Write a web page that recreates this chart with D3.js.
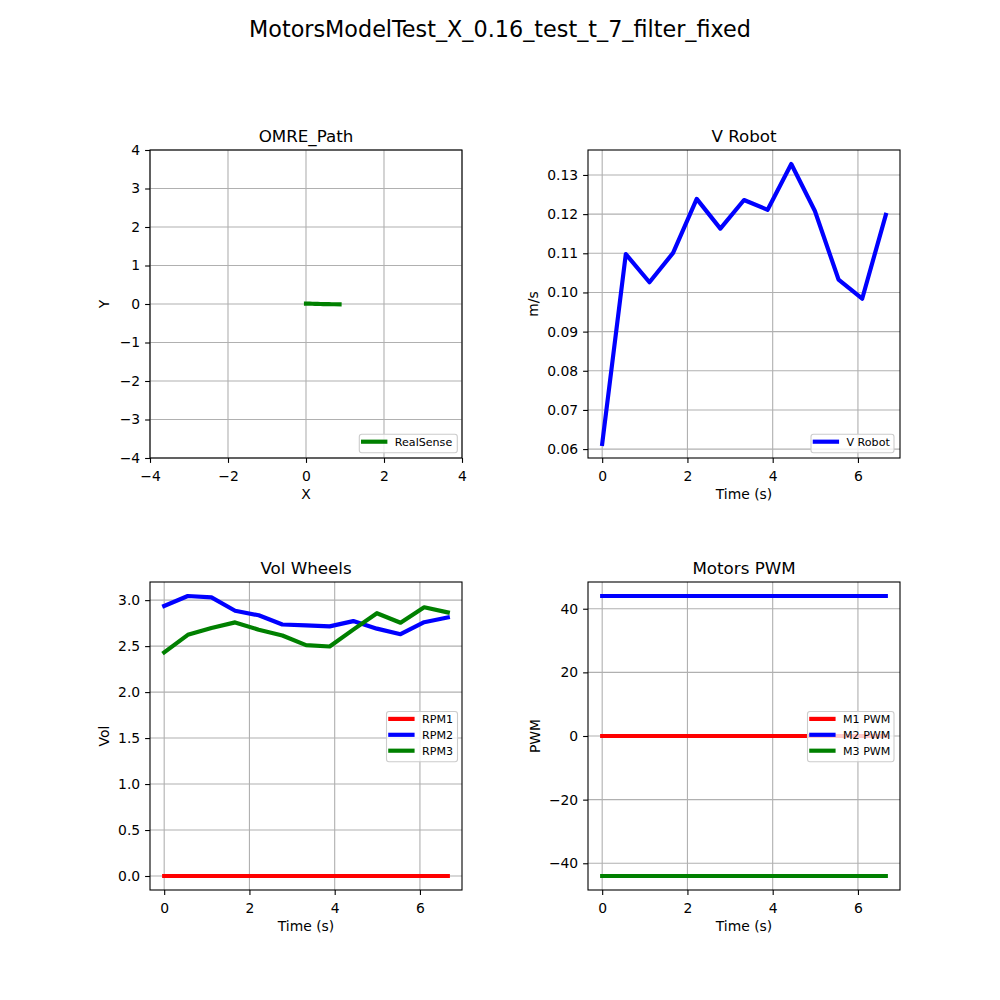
<!DOCTYPE html>
<html><head><meta charset="utf-8">
<script src="https://cdn.jsdelivr.net/npm/d3@7"></script>
<style>body{margin:0;background:#fff}svg{display:block}text{font-family:"DejaVu Sans",sans-serif}</style>
</head><body>
<svg id="c" width="1000" height="1000"></svg>
<script>
const figTitle = "MotorsModelTest_X_0.16_test_t_7_filter_fixed";
const time = [0,0.5545,1.109,1.6635,2.218,2.7725,3.327,3.8815,4.436,4.9905,5.545,6.0995,6.654];
const vRobot = [0.0613,0.1098,0.1026,0.1101,0.1239,0.1163,0.1236,0.1211,0.1328,0.1208,0.1033,0.0984,0.1198];
const rpm1 = [0,0,0,0,0,0,0,0,0,0,0,0,0];
const rpm2 = [2.937,3.045,3.030,2.885,2.835,2.735,2.725,2.715,2.772,2.690,2.630,2.760,2.812];
const rpm3 = [2.432,2.623,2.698,2.758,2.679,2.616,2.511,2.496,2.679,2.858,2.754,2.922,2.866];
const m1pwm = [0,0,0,0,0,0,0,0,0,0,0,0,0];
const m2pwm = [44,44,44,44,44,44,44,44,44,44,44,44,44];
const m3pwm = [-44,-44,-44,-44,-44,-44,-44,-44,-44,-44,-44,-44,-44];
const pathX = [0,0.04,0.10,0.16,0.23,0.30,0.37,0.44,0.52,0.59,0.66,0.72,0.86];
const pathY = [0.01,0.01,0.008,0.006,0.004,0.002,0,-0.002,-0.004,-0.005,-0.006,-0.007,-0.008];
const pathTicksX = [-4,-2,0,2,4];
const pathTicksY = [-4,-3,-2,-1,0,1,2,3,4];
const vTicks = [0.06,0.07,0.08,0.09,0.10,0.11,0.12,0.13];
const volTicks = [0,0.5,1,1.5,2,2.5,3];
const pwmTicks = [-40,-20,0,20,40];
const timeTicks = [0,2,4,6];

const svg = d3.select("#c");
svg.append("text").attr("x",500).attr("y",37).attr("text-anchor","middle")
  .style("font-size","22.3px").text(figTitle);

const LW = 4.17;
function ext(arrs){const all=[].concat(...arrs);const lo=d3.min(all),hi=d3.max(all);const m=(hi-lo)*0.05;return [lo-m,hi+m];}
function fmt(t){return d3.format(".2f")(t).replace("-","\u2212");}

function panel(o){
  const g = svg.append("g");
  const x = d3.scaleLinear().domain(o.xd).range([o.l,o.l+312]);
  const y = d3.scaleLinear().domain(o.yd).range([o.t+308,o.t]);
  o.xt.forEach(v=>g.append("line").attr("x1",x(v)).attr("x2",x(v)).attr("y1",o.t).attr("y2",o.t+308).attr("stroke","#b0b0b0").attr("stroke-width",1.1));
  o.yt.forEach(v=>g.append("line").attr("y1",y(v)).attr("y2",y(v)).attr("x1",o.l).attr("x2",o.l+312).attr("stroke","#b0b0b0").attr("stroke-width",1.1));
  const clip = "clip"+o.id;
  svg.append("clipPath").attr("id",clip).append("rect").attr("x",o.l).attr("y",o.t).attr("width",312).attr("height",308);
  o.series.forEach(s=>{
    const line = d3.line().x((d,i)=>x(s.xs[i])).y(d=>y(d));
    g.append("path").attr("d",line(s.ys)).attr("fill","none").attr("stroke",s.c).attr("stroke-width",LW)
      .attr("stroke-linejoin","round").attr("stroke-linecap","square").attr("clip-path","url(#"+clip+")");
  });
  const ax = g.append("g").attr("transform",`translate(0,${o.t+308})`).call(d3.axisBottom(x).tickValues(o.xt).tickSize(4.9).tickPadding(4.9).tickFormat(o.xf));
  const ay = g.append("g").attr("transform",`translate(${o.l},0)`).call(d3.axisLeft(y).tickValues(o.yt).tickSize(4.9).tickPadding(4.9).tickFormat(o.yf));
  [ax,ay].forEach(a=>{a.select(".domain").remove();a.selectAll("line").attr("stroke","#000").attr("stroke-width",1.1);
    a.selectAll("text").style("font-size","13.9px").style("font-family","DejaVu Sans").attr("fill","#000");});
  ax.selectAll("text").attr("dy","0.95em");
  g.append("rect").attr("x",o.l).attr("y",o.t).attr("width",312).attr("height",308).attr("fill","none").attr("stroke","#000").attr("stroke-width",1.1);
  g.append("text").attr("x",o.l+156).attr("y",o.t-8.5).attr("text-anchor","middle").style("font-size","16.7px").text(o.title);
  g.append("text").attr("x",o.l+156).attr("y",o.t+308+40.5).attr("text-anchor","middle").style("font-size","13.9px").text(o.xl);
  g.append("text").attr("transform",`translate(${o.l+o.ylo},${o.t+154}) rotate(-90)`).attr("text-anchor","middle").style("font-size","13.9px").text(o.yl);
  const L = o.leg;
  const lg = g.append("g");
  const n = o.series.length;
  lg.append("rect").attr("x",L.x).attr("y",L.y).attr("width",L.w).attr("height",18.4+(n-1)*15.9).attr("rx",2.5)
    .attr("fill","#fff").attr("fill-opacity",0.8).attr("stroke","#cccccc").attr("stroke-width",1.1);
  o.series.forEach((s,i)=>{
    const cy = L.y+7.4+i*15.9;
    lg.append("line").attr("x1",L.x+3.8).attr("x2",L.x+26).attr("y1",cy).attr("y2",cy).attr("stroke",s.c).attr("stroke-width",LW).attr("stroke-linecap","square");
    lg.append("text").attr("x",L.x+35.5).attr("y",cy+4).style("font-size","11.1px").text(s.name);
  });
}

const tx = ext([time]);
panel({id:1,l:150,t:150,xd:[-4,4],yd:[-4,4],xt:pathTicksX,yt:pathTicksY,xf:d=>String(d).replace("-","\u2212"),yf:d=>String(d).replace("-","\u2212"),
  title:"OMRE_Path",xl:"X",yl:"Y",ylo:-41,
  series:[{xs:pathX,ys:pathY,c:"#008000",name:"RealSense"}],leg:{x:359.3,y:434.3,w:98}});
panel({id:2,l:588,t:150,xd:tx,yd:ext([vRobot]),xt:timeTicks,yt:vTicks,xf:d=>d,yf:fmt,
  title:"V Robot",xl:"Time (s)",yl:"m/s",ylo:-50,
  series:[{xs:time,ys:vRobot,c:"#0000ff",name:"V Robot"}],leg:{x:811,y:434.3,w:83}});
panel({id:3,l:150,t:582,xd:tx,yd:ext([rpm1,rpm2,rpm3]),xt:timeTicks,yt:volTicks,xf:d=>d,yf:d=>d3.format(".1f")(d),
  title:"Vol Wheels",xl:"Time (s)",yl:"Vol",ylo:-41,
  series:[{xs:time,ys:rpm1,c:"#ff0000",name:"RPM1"},{xs:time,ys:rpm2,c:"#0000ff",name:"RPM2"},{xs:time,ys:rpm3,c:"#008000",name:"RPM3"}],
  leg:{x:386.5,y:711.5,w:71}});
panel({id:4,l:588,t:582,xd:tx,yd:ext([m1pwm,m2pwm,m3pwm]),xt:timeTicks,yt:pwmTicks,xf:d=>d,yf:d=>String(d).replace("-","\u2212"),
  title:"Motors PWM",xl:"Time (s)",yl:"PWM",ylo:-48,
  series:[{xs:time,ys:m1pwm,c:"#ff0000",name:"M1 PWM"},{xs:time,ys:m2pwm,c:"#0000ff",name:"M2 PWM"},{xs:time,ys:m3pwm,c:"#008000",name:"M3 PWM"}],
  leg:{x:807.5,y:711.5,w:86.5}});
</script>
</body></html>
